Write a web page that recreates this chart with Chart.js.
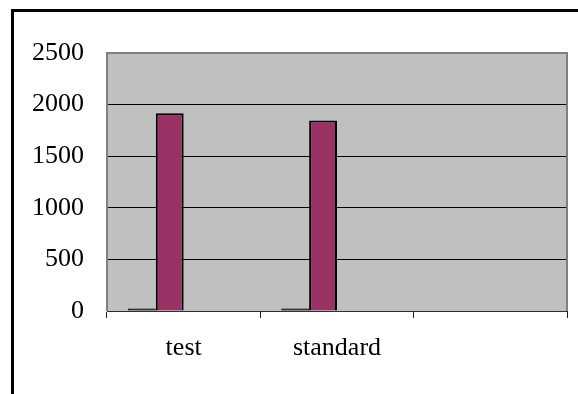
<!DOCTYPE html>
<html>
<head>
<meta charset="utf-8">
<script src="https://cdn.jsdelivr.net/npm/chart.js@4/dist/chart.umd.min.js"></script>
<style>
body{margin:0;background:#fff;}
#wrap{position:relative;width:578px;height:394px;}
#frame{position:absolute;left:11px;top:9px;width:600px;height:420px;border-left:3px solid #000;border-top:3px solid #000;box-sizing:border-box;}
</style>
</head>
<body>
<div id="wrap">
<div id="frame"></div>
<canvas id="chart" width="578" height="394"></canvas>
</div>
<script>
// chart values
var categories = ['test', 'standard', ''];
var series1 = [25, 25, null];
var series2 = [1915, 1845, null];
var series3 = [null, null, null];
var series4 = [null, null, null];
var yMax = 2500;
var yStep = 500;

var serifFont = "'Times New Roman', 'Liberation Serif', 'DejaVu Serif', serif";

var plotBack = {
	id:'plotBack',
	beforeDraw:function(chart){
		var a = chart.chartArea, c = chart.ctx;
		c.save();
		c.fillStyle = '#c0c0c0';
		c.fillRect(a.left, a.top, a.right - a.left, a.bottom - a.top);
		c.restore();
	},
	afterDraw:function(chart){
		var a = chart.chartArea, c = chart.ctx;
		c.save();
		c.strokeStyle = '#808080';
		c.lineWidth = 2;
		c.beginPath();
		c.moveTo(a.left, a.bottom);
		c.lineTo(a.left, a.top);
		c.lineTo(a.right, a.top);
		c.lineTo(a.right, a.bottom);
		c.stroke();
		c.restore();
	}
};

var ctx = document.querySelector('#chart').getContext('2d');
var chart = new Chart(ctx, {
	type:'bar',
	data:{
		labels:categories,
		datasets:[
			{data:series1, backgroundColor:'#000', borderColor:'#000', borderWidth:1},
			{data:series2, backgroundColor:'#993366', borderColor:'#000', borderWidth:2},
			{data:series3, backgroundColor:'#ffffcc', borderColor:'#000', borderWidth:2},
			{data:series4, backgroundColor:'#ccffff', borderColor:'#000', borderWidth:2}
		]
	},
	plugins:[plotBack],
	options:{
		responsive:false,
		animation:false,
		devicePixelRatio:1,
		layout:{padding:{top:53, right:11, bottom:0, left:0}},
		datasets:{bar:{categoryPercentage:4/5.5, barPercentage:1}},
		plugins:{legend:{display:false}, tooltip:{enabled:false}},
		scales:{
			x:{
				grid:{offset:true, drawOnChartArea:false, color:'#202020', tickLength:7, lineWidth:1},
				border:{color:'#303030', width:1},
				ticks:{color:'#000', font:{family:serifFont, size:26}, padding:15},
				afterFit:function(s){ s.height = 83; }
			},
			y:{
				min:0, max:yMax,
				grid:{color:'#000', lineWidth:1, drawTicks:false},
				border:{display:false},
				ticks:{stepSize:yStep, color:'#000', padding:23, font:{family:serifFont, size:26},
					callback:function(v){ return String(v); }},
				afterFit:function(s){ s.width = 107; }
			}
		}
	}
});
</script>
</body>
</html>
